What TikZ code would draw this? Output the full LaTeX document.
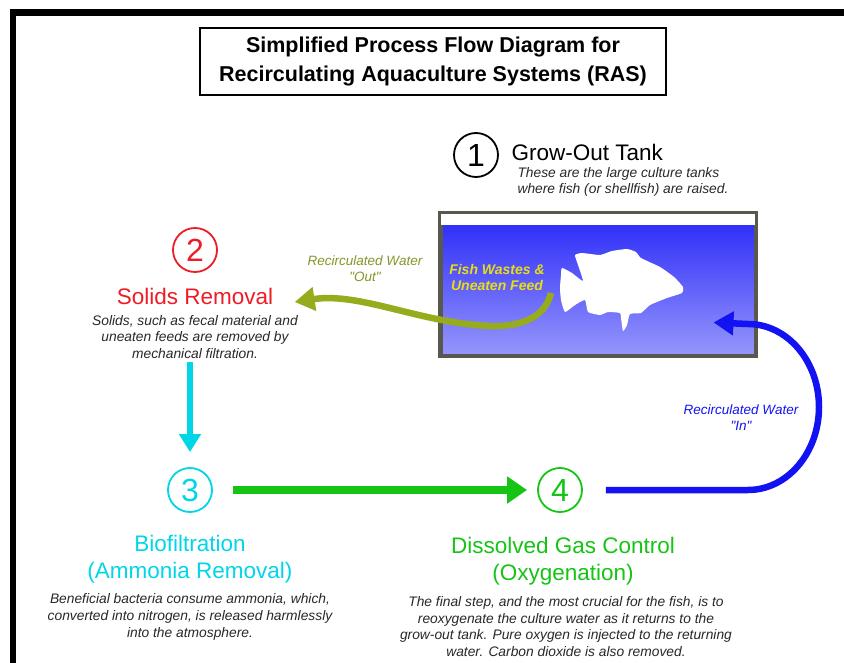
\documentclass[tikz,border=0pt]{standalone}
\usepackage{fontspec}
\setmainfont{Liberation Sans}
\usetikzlibrary{arrows.meta,positioning}
\definecolor{remred}{RGB}{238,28,36}
\definecolor{biocyan}{RGB}{0,214,232}
\definecolor{gasgreen}{RGB}{22,196,22}
\definecolor{inblue}{RGB}{18,18,242}
\definecolor{outolive}{RGB}{150,172,28}
\definecolor{outtext}{RGB}{128,152,40}
\definecolor{wasteyellow}{RGB}{232,222,20}
\definecolor{desctext}{RGB}{40,40,40}
\definecolor{tankline}{RGB}{88,88,78}
\definecolor{tanktop}{RGB}{40,40,248}
\definecolor{tankbot}{RGB}{150,150,252}

\begin{document}
\begin{tikzpicture}[x=1pt,y=-1pt,
  stepnum/.style={circle,draw,line width=1.8pt,minimum size=44pt,inner sep=0pt,
    font=\fontsize{32}{32}\selectfont},
  heading/.style={align=center,font=\fontsize{22.5}{27}\selectfont},
  desc/.style={align=center,text=desctext,font=\fontsize{13.8}{16.6}\selectfont\itshape},
  waterlbl/.style={align=center,font=\fontsize{13.5}{16.6}\selectfont\itshape},
  flow/.style={line width=6.5pt,-{Triangle[length=20pt,width=23pt]}}]
  \useasboundingbox (0,0) rectangle (844,663);
  \fill[white] (0,0) rectangle (844,663);
  \fill[black] (10,9) rectangle (844,16);
  \fill[black] (10,9) rectangle (16,663);

  \node[draw,line width=1.6pt,minimum width=466pt,minimum height=67pt,align=center,
    font=\fontsize{21.5}{29}\selectfont\bfseries] (title) at (433,61.5)
    {Simplified Process Flow Diagram for\\Recirculating Aquaculture Systems (RAS)};

  % 1: tank
  \node[stepnum] (n1) at (476,155) {1};
  \node[heading,anchor=west] (growout) at (508,152) {Grow-Out Tank};
  \node[desc,align=left,anchor=west] (desc1) at (514,182)
    {These are the large culture tanks\\where fish (or shellfish) are raised.};
  \node[draw=tankline,line width=3pt,top color=tanktop,bottom color=tankbot,
    minimum width=314pt,minimum height=141pt,inner sep=0pt] (tank) at (598,284.5) {};
  \fill[white] (tank.north west) rectangle (755,225);
  \draw[tankline,line width=3pt] (tank.north west) rectangle (tank.south east);
  \fill[white] plot[smooth cycle,tension=0.3] coordinates {
    (562,268) (572,273) (583,281) (577,262) (575,255) (582,253) (600,255)
    (612,251) (627,249) (636,252) (641,258) (660,267) (674,277) (683,287)
    (682,293) (667,298) (650,305) (641,313) (630,314) (627,325) (623,331)
    (621,318) (620,313) (608,312) (600,315) (588,312) (585,300) (575,305)
    (565,312) (561,300) (560,288) (561,275)};
  \node[font=\fontsize{14}{16}\selectfont\bfseries\itshape,text=wasteyellow,align=center]
    (waste) at (497,277) {Fish Wastes \&\\Uneaten Feed};
  \coordinate (wasteend) at (551,293);

  % 2: solids
  \node[stepnum,remred] (n2) at (195,250) {2};
  \node[heading,text=remred] (solids) at (195,296) {Solids Removal};
  \node[desc] (desc2) at (195,337)
    {Solids, such as fecal material and\\uneaten feeds are removed by\\mechanical filtration.};
  \node[waterlbl,text=outtext] (outlbl) at (365,268.5)
    {Recirculated Water\\\textquotedbl Out\textquotedbl};

  % 3: biofilter
  \node[stepnum,biocyan] (n3) at (190,490) {3};
  \node[heading,text=biocyan] (bio) at (190,559) {Biofiltration\\(Ammonia Removal)};
  \node[desc] (desc3) at (190,617)
    {Beneficial bacteria consume ammonia, which,\\converted into nitrogen, is released harmlessly\\into the atmosphere.};

  % 4: oxygen
  \node[stepnum,gasgreen] (n4) at (560,490) {4};
  \node[heading,text=gasgreen] (gas) at (563,561.5) {Dissolved Gas Control\\(Oxygenation)};
  \node[desc] (desc4) at (566,626.5)
    {The final step, and the most crucial for the fish, is to\\reoxygenate the culture water as it returns to the\\grow-out tank. Pure oxygen is injected to the returning\\water. Carbon dioxide is also removed.};
  \node[waterlbl,text=inblue] (inlbl) at (741,417.5)
    {Recirculated Water\\\textquotedbl In\textquotedbl};

  \draw[flow,outolive] (wasteend) .. controls (545,318) and (520,327) .. (490,326)
    .. controls (420,323) and (360,292) .. ([shift={(18,6)}]solids.east);
  \draw[flow,biocyan,line width=6pt,-{Triangle[length=18pt,width=21pt]},shorten >=15pt]
    (desc2.south -| n3.north) -- (n3.north);
  \draw[flow,gasgreen,line width=8pt,-{Triangle[length=20pt,width=26pt]},
    shorten <=20pt,shorten >=10pt] (n3) -- (n4);
  \draw[flow,inblue,shorten <=23pt] (n4.east) -- (748,490)
    arc[start angle=-90,end angle=90,x radius=71pt,y radius=83pt]
    -- ([shift={(-43,110)}]tank.north east);
\end{tikzpicture}
\end{document}
